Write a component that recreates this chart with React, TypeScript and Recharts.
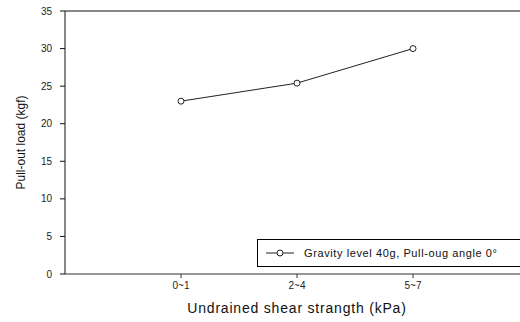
import { LineChart, Line, XAxis, YAxis, ReferenceLine } from 'recharts'

// categories on the x axis and the measured pull-out loads
const categories = ['0~1', '2~4', '5~7']
const positions = [1, 2, 3]
const pullOutLoad = [23.0, 25.4, 30.0]
const yTicks = [0, 5, 10, 15, 20, 25, 30, 35]
const seriesName = 'Gravity level 40g, Pull-oug angle 0°'

const data = categories.map((c, i) => ({
  pos: positions[i],
  label: c,
  load: pullOutLoad[i]
}))

const font = 'Arial, "Liberation Sans", sans-serif'

function LegendBox() {
  return (
    <div style={{
      position: 'absolute',
      left: 257,
      top: 239,
      border: '1px solid #000',
      width: 280,
      height: 26,
      display: 'flex',
      alignItems: 'center',
      background: '#fff',
      fontFamily: font,
      fontSize: 11,
      color: '#111',
      letterSpacing: '0.6px'
    }}>
      <svg width={38} height={10} style={{ marginLeft: 6 }}>
        <line x1={2} y1={5} x2={30} y2={5} stroke="#222" strokeWidth={1} />
        <circle cx={16} cy={5} r={3} fill="#fff" stroke="#222" strokeWidth={1} />
      </svg>
      <span style={{ marginLeft: 2 }}>{seriesName}</span>
    </div>
  )
}

export default function App() {
  return (
    <div style={{ position: 'absolute', left: 0, top: 0, width: 520, height: 322, overflow: 'hidden', background: '#fff' }}>
      <LineChart width={529} height={322} data={data} margin={{ top: 11, right: 0, bottom: 0, left: 0 }}>
        <XAxis
          dataKey="pos"
          type="number"
          domain={[0, 4]}
          ticks={positions}
          tickFormatter={(v: number) => categories[positions.indexOf(v)] ?? ''}
          height={48}
          stroke="#333"
          tickSize={4}
          tickMargin={4}
          tick={{ fontSize: 10, fill: '#222', fontFamily: font }}
          label={{ value: 'Undrained shear strangth (kPa)', position: 'insideBottom', offset: 9, fontSize: 14, fill: '#111', fontFamily: font, style: { letterSpacing: '0.8px' } }}
        />
        <YAxis
          type="number"
          domain={[0, 35]}
          ticks={yTicks}
          width={65}
          stroke="#111"
          tickSize={5}
          tickMargin={8}
          tick={{ fontSize: 10, fill: '#222', fontFamily: font }}
          label={{ value: 'Pull-out load (kgf)', angle: -90, position: 'insideLeft', offset: 21, fontSize: 12, fill: '#111', fontFamily: font, style: { textAnchor: 'middle' } }}
        />
        <ReferenceLine y={35} stroke="#111" ifOverflow="visible" />
        <Line
          dataKey="load"
          name={seriesName}
          type="linear"
          stroke="#222"
          strokeWidth={1}
          dot={{ r: 3, fill: '#fff', stroke: '#222', strokeWidth: 1 }}
          isAnimationActive={false}
        />
      </LineChart>
      <LegendBox />
    </div>
  )
}
